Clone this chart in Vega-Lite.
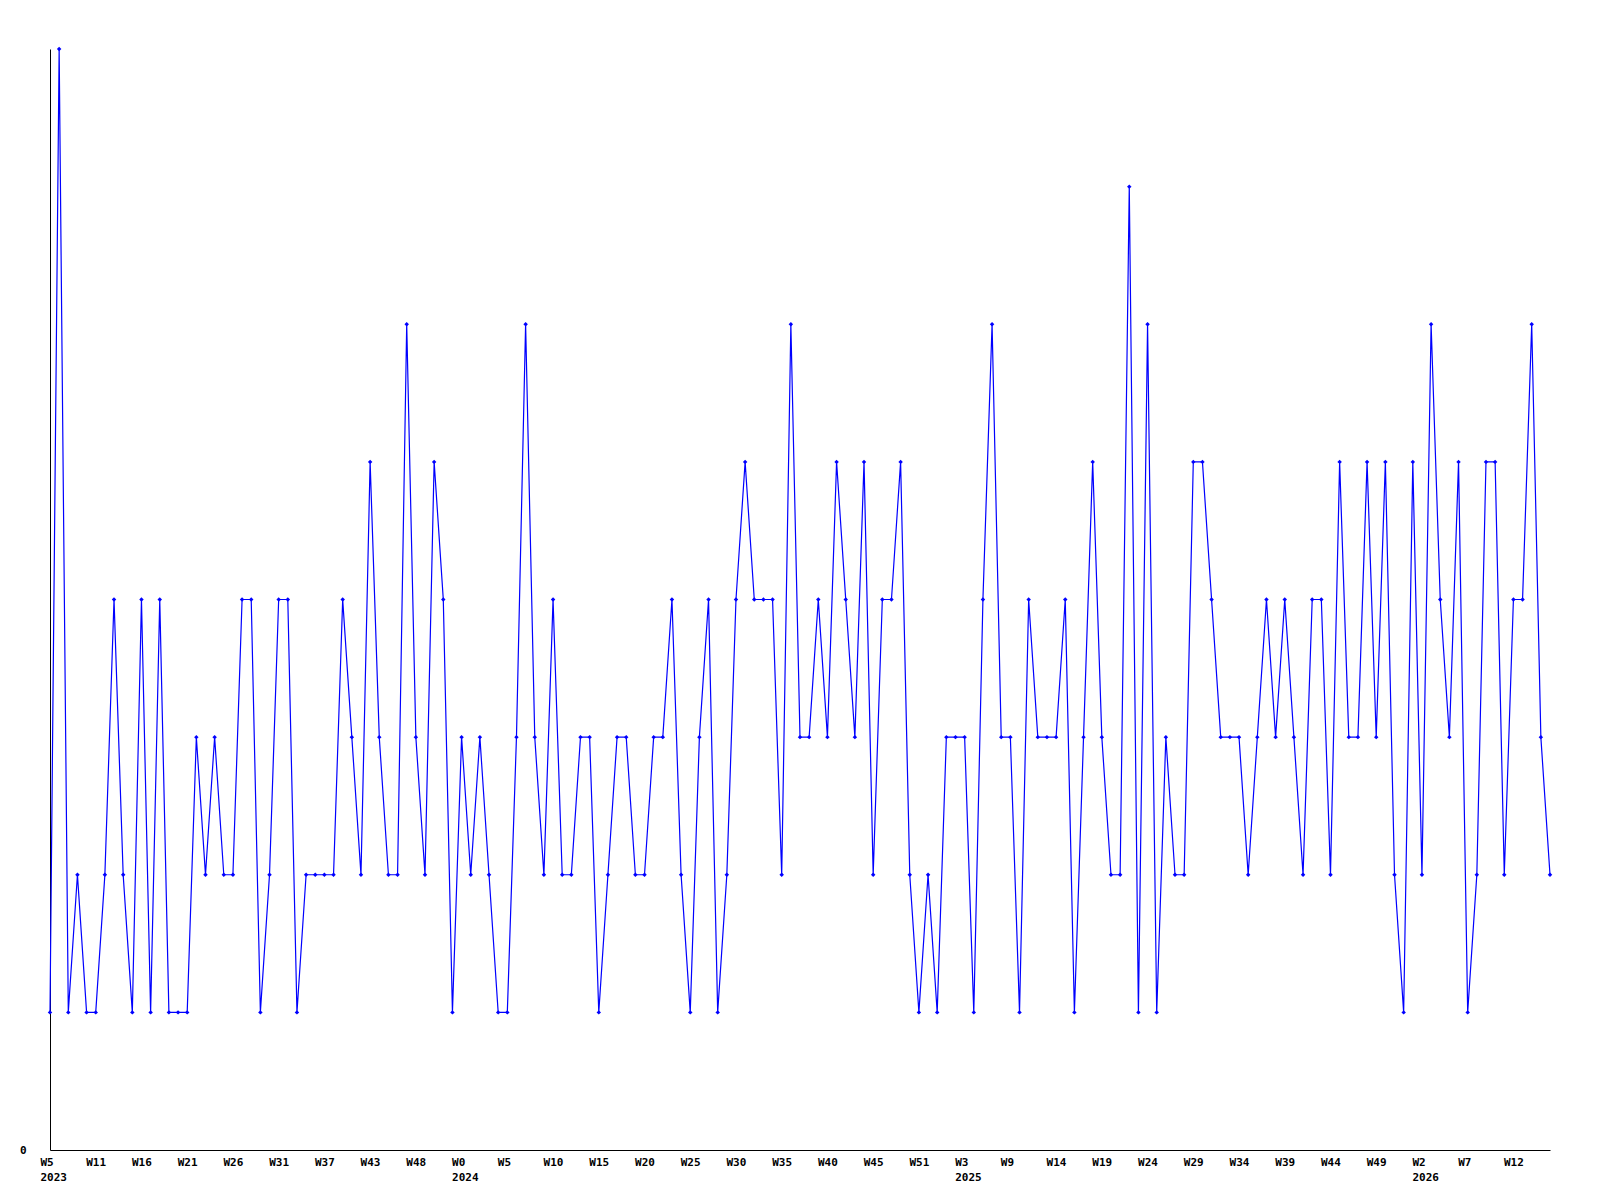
{
  "$schema": "https://vega.github.io/schema/vega-lite/v6.json",
  "autosize": {"type": "none"},
  "padding": {"left": 50, "top": 49, "right": 50, "bottom": 50},
  "width": 1500,
  "height": 1101,
  "background": "white",
  "config": {"view": {"stroke": null}},
  "data": {"values": [
    {"date":"2023-01-29","value":1},{"date":"2023-02-05","value":8},{"date":"2023-02-12","value":1},{"date":"2023-02-19","value":2},{"date":"2023-02-26","value":1},
    {"date":"2023-03-05","value":1},{"date":"2023-03-12","value":2},{"date":"2023-03-19","value":4},{"date":"2023-03-26","value":2},{"date":"2023-04-02","value":1},
    {"date":"2023-04-09","value":4},{"date":"2023-04-16","value":1},{"date":"2023-04-23","value":4},{"date":"2023-04-30","value":1},{"date":"2023-05-07","value":1},
    {"date":"2023-05-14","value":1},{"date":"2023-05-21","value":3},{"date":"2023-05-28","value":2},{"date":"2023-06-04","value":3},{"date":"2023-06-11","value":2},
    {"date":"2023-06-18","value":2},{"date":"2023-06-25","value":4},{"date":"2023-07-02","value":4},{"date":"2023-07-09","value":1},{"date":"2023-07-16","value":2},
    {"date":"2023-07-23","value":4},{"date":"2023-07-30","value":4},{"date":"2023-08-06","value":1},{"date":"2023-08-13","value":2},{"date":"2023-08-20","value":2},
    {"date":"2023-08-27","value":2},{"date":"2023-09-03","value":2},{"date":"2023-09-10","value":4},{"date":"2023-09-17","value":3},{"date":"2023-09-24","value":2},
    {"date":"2023-10-01","value":5},{"date":"2023-10-08","value":3},{"date":"2023-10-15","value":2},{"date":"2023-10-22","value":2},{"date":"2023-10-29","value":6},
    {"date":"2023-11-05","value":3},{"date":"2023-11-12","value":2},{"date":"2023-11-19","value":5},{"date":"2023-11-26","value":4},{"date":"2023-12-03","value":1},
    {"date":"2023-12-10","value":3},{"date":"2023-12-17","value":2},{"date":"2023-12-24","value":3},{"date":"2023-12-31","value":2},
    {"date":"2024-01-07","value":1},{"date":"2024-01-14","value":1},{"date":"2024-01-21","value":3},{"date":"2024-01-28","value":6},{"date":"2024-02-04","value":3},
    {"date":"2024-02-11","value":2},{"date":"2024-02-18","value":4},{"date":"2024-02-25","value":2},{"date":"2024-03-03","value":2},{"date":"2024-03-10","value":3},
    {"date":"2024-03-17","value":3},{"date":"2024-03-24","value":1},{"date":"2024-03-31","value":2},{"date":"2024-04-07","value":3},{"date":"2024-04-14","value":3},
    {"date":"2024-04-21","value":2},{"date":"2024-04-28","value":2},{"date":"2024-05-05","value":3},{"date":"2024-05-12","value":3},{"date":"2024-05-19","value":4},
    {"date":"2024-05-26","value":2},{"date":"2024-06-02","value":1},{"date":"2024-06-09","value":3},{"date":"2024-06-16","value":4},{"date":"2024-06-23","value":1},
    {"date":"2024-06-30","value":2},{"date":"2024-07-07","value":4},{"date":"2024-07-14","value":5},{"date":"2024-07-21","value":4},{"date":"2024-07-28","value":4},
    {"date":"2024-08-04","value":4},{"date":"2024-08-11","value":2},{"date":"2024-08-18","value":6},{"date":"2024-08-25","value":3},{"date":"2024-09-01","value":3},
    {"date":"2024-09-08","value":4},{"date":"2024-09-15","value":3},{"date":"2024-09-22","value":5},{"date":"2024-09-29","value":4},{"date":"2024-10-06","value":3},
    {"date":"2024-10-13","value":5},{"date":"2024-10-20","value":2},{"date":"2024-10-27","value":4},{"date":"2024-11-03","value":4},{"date":"2024-11-10","value":5},
    {"date":"2024-11-17","value":2},{"date":"2024-11-24","value":1},{"date":"2024-12-01","value":2},{"date":"2024-12-08","value":1},{"date":"2024-12-15","value":3},
    {"date":"2024-12-22","value":3},{"date":"2024-12-29","value":3},
    {"date":"2025-01-05","value":1},{"date":"2025-01-12","value":4},{"date":"2025-01-19","value":6},{"date":"2025-01-26","value":3},{"date":"2025-02-02","value":3},
    {"date":"2025-02-09","value":1},{"date":"2025-02-16","value":4},{"date":"2025-02-23","value":3},{"date":"2025-03-02","value":3},{"date":"2025-03-09","value":3},
    {"date":"2025-03-16","value":4},{"date":"2025-03-23","value":1},{"date":"2025-03-30","value":3},{"date":"2025-04-06","value":5},{"date":"2025-04-13","value":3},
    {"date":"2025-04-20","value":2},{"date":"2025-04-27","value":2},{"date":"2025-05-04","value":7},{"date":"2025-05-11","value":1},{"date":"2025-05-18","value":6},
    {"date":"2025-05-25","value":1},{"date":"2025-06-01","value":3},{"date":"2025-06-08","value":2},{"date":"2025-06-15","value":2},{"date":"2025-06-22","value":5},
    {"date":"2025-06-29","value":5},{"date":"2025-07-06","value":4},{"date":"2025-07-13","value":3},{"date":"2025-07-20","value":3},{"date":"2025-07-27","value":3},
    {"date":"2025-08-03","value":2},{"date":"2025-08-10","value":3},{"date":"2025-08-17","value":4},{"date":"2025-08-24","value":3},{"date":"2025-08-31","value":4},
    {"date":"2025-09-07","value":3},{"date":"2025-09-14","value":2},{"date":"2025-09-21","value":4},{"date":"2025-09-28","value":4},{"date":"2025-10-05","value":2},
    {"date":"2025-10-12","value":5},{"date":"2025-10-19","value":3},{"date":"2025-10-26","value":3},{"date":"2025-11-02","value":5},{"date":"2025-11-09","value":3},
    {"date":"2025-11-16","value":5},{"date":"2025-11-23","value":2},{"date":"2025-11-30","value":1},{"date":"2025-12-07","value":5},{"date":"2025-12-14","value":2},
    {"date":"2025-12-21","value":6},{"date":"2025-12-28","value":4},
    {"date":"2026-01-04","value":3},{"date":"2026-01-11","value":5},{"date":"2026-01-18","value":1},{"date":"2026-01-25","value":2},{"date":"2026-02-01","value":5},
    {"date":"2026-02-08","value":5},{"date":"2026-02-15","value":2},{"date":"2026-02-22","value":4},{"date":"2026-03-01","value":4},{"date":"2026-03-08","value":6},
    {"date":"2026-03-15","value":3},{"date":"2026-03-22","value":2}
  ]},
  "mark": {
    "type": "line",
    "color": "#0000ff",
    "strokeWidth": 1.2,
    "point": {"filled": true, "shape": "diamond", "size": 20, "color": "#0000ff"}
  },
  "encoding": {
    "x": {
      "field": "date",
      "type": "temporal",
      "scale": {"type": "utc", "nice": false, "padding": 0},
      "axis": {
        "title": null,
        "grid": false,
        "ticks": false,
        "domainColor": "#000000",
        "domainWidth": 1,
        "labelAlign": "left",
        "labelOffset": -10,
        "labelBaseline": "top",
        "labelPadding": 6,
        "labelFont": "DejaVu Sans Mono",
        "labelFontWeight": "bold",
        "labelFontSize": 11,
        "labelColor": "#000000",
        "labelLineHeight": 15,
        "labelOverlap": false,
        "labelFlush": false,
        "labelBound": false,
        "values": [
          {"year":2023,"month":1,"date":29,"utc":true},{"year":2023,"month":3,"date":5,"utc":true},{"year":2023,"month":4,"date":9,"utc":true},
          {"year":2023,"month":5,"date":14,"utc":true},{"year":2023,"month":6,"date":18,"utc":true},{"year":2023,"month":7,"date":23,"utc":true},
          {"year":2023,"month":8,"date":27,"utc":true},{"year":2023,"month":10,"date":1,"utc":true},{"year":2023,"month":11,"date":5,"utc":true},
          {"year":2023,"month":12,"date":10,"utc":true},{"year":2024,"month":1,"date":14,"utc":true},{"year":2024,"month":2,"date":18,"utc":true},
          {"year":2024,"month":3,"date":24,"utc":true},{"year":2024,"month":4,"date":28,"utc":true},{"year":2024,"month":6,"date":2,"utc":true},
          {"year":2024,"month":7,"date":7,"utc":true},{"year":2024,"month":8,"date":11,"utc":true},{"year":2024,"month":9,"date":15,"utc":true},
          {"year":2024,"month":10,"date":20,"utc":true},{"year":2024,"month":11,"date":24,"utc":true},{"year":2024,"month":12,"date":29,"utc":true},
          {"year":2025,"month":2,"date":2,"utc":true},{"year":2025,"month":3,"date":9,"utc":true},{"year":2025,"month":4,"date":13,"utc":true},
          {"year":2025,"month":5,"date":18,"utc":true},{"year":2025,"month":6,"date":22,"utc":true},{"year":2025,"month":7,"date":27,"utc":true},
          {"year":2025,"month":8,"date":31,"utc":true},{"year":2025,"month":10,"date":5,"utc":true},{"year":2025,"month":11,"date":9,"utc":true},
          {"year":2025,"month":12,"date":14,"utc":true},{"year":2026,"month":1,"date":18,"utc":true},{"year":2026,"month":2,"date":22,"utc":true}
        ],
        "labelExpr": "[['W5','2023'],'W11','W16','W21','W26','W31','W37','W43','W48',['W0','2024'],'W5','W10','W15','W20','W25','W30','W35','W40','W45','W51',['W3','2025'],'W9','W14','W19','W24','W29','W34','W39','W44','W49',['W2','2026'],'W7','W12'][round((datum.value - utc(2023,0,29)) / 3024000000)]"
      }
    },
    "y": {
      "field": "value",
      "type": "quantitative",
      "scale": {"domain": [0, 8], "nice": false, "zero": true},
      "axis": {
        "title": null,
        "grid": false,
        "ticks": false,
        "values": [0],
        "domainColor": "#000000",
        "domainWidth": 1,
        "labelPadding": 24,
        "labelFont": "DejaVu Sans Mono",
        "labelFontWeight": "bold",
        "labelFontSize": 11,
        "labelColor": "#000000",
        "labelBaseline": "middle"
      }
    }
  }
}
